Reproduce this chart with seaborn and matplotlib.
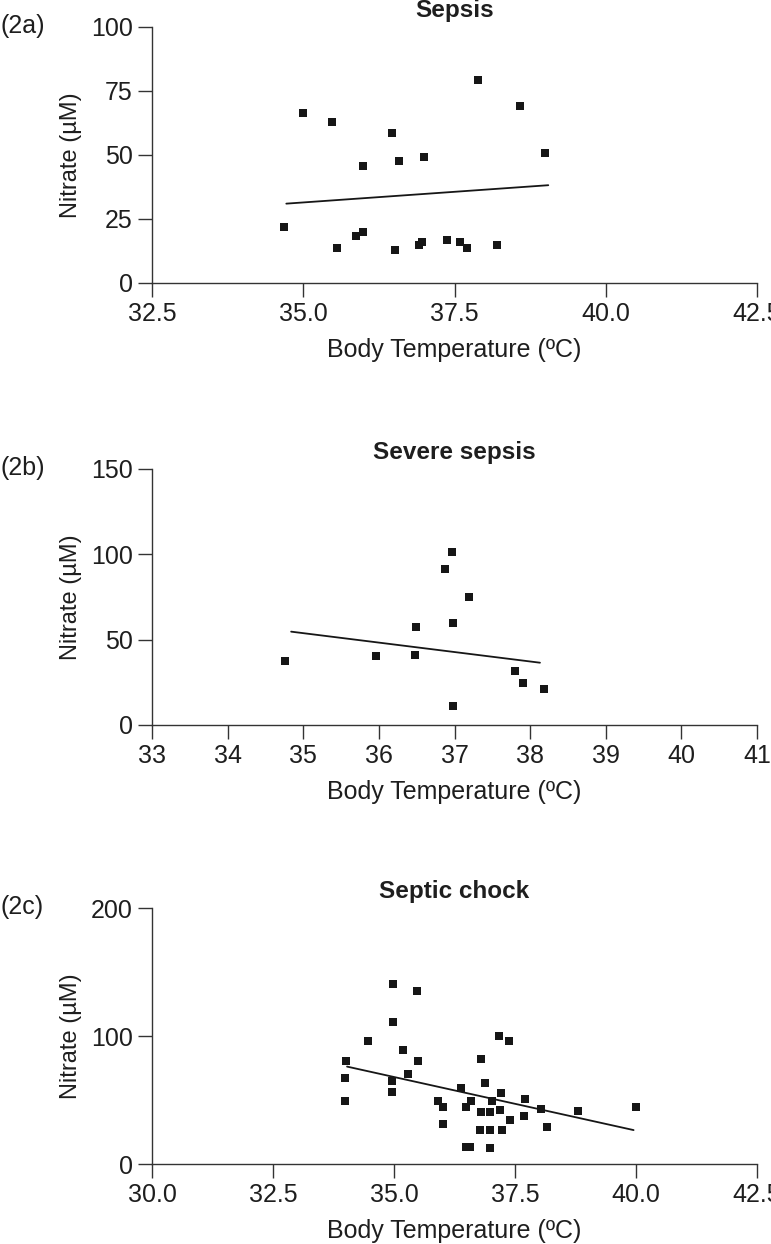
import matplotlib
matplotlib.use("Agg")
import matplotlib.pyplot as plt
import seaborn as sns
import pandas as pd

# ---- data ----
sepsis_temp = [34.69, 35.0, 35.48, 35.56, 35.87, 35.99, 35.98, 36.47, 36.52, 36.58,
               36.91, 36.97, 36.99, 37.38, 37.59, 37.71, 37.89, 38.21, 38.58, 38.99]
sepsis_nitrate = [21.9, 66.6, 63.0, 13.6, 18.3, 19.9, 45.8, 58.6, 13.0, 47.5,
                  14.7, 16.0, 49.4, 16.8, 16.0, 13.6, 79.4, 14.7, 69.0, 50.8]
sepsis_trend_temp = [34.72, 39.05]
sepsis_trend_nitrate = [31.0, 38.2]

severe_temp = [34.76, 35.96, 36.48, 36.49, 36.88, 36.97, 36.98, 36.98, 37.19, 37.80, 37.91, 38.19]
severe_nitrate = [37.3, 40.4, 41.0, 57.2, 91.4, 101.2, 59.8, 10.9, 74.8, 31.8, 24.8, 21.3]
severe_trend_temp = [34.84, 38.13]
severe_trend_nitrate = [54.7, 36.5]

shock_temp = [34.00, 33.99, 33.98, 34.47, 34.97, 34.98, 34.96, 34.96, 35.19, 35.28,
              35.47, 35.50, 35.90, 36.01, 36.01, 36.38, 36.48, 36.48, 36.58, 36.59,
              36.80, 36.79, 36.78, 36.87, 36.99, 36.99, 36.99, 37.02, 37.17, 37.21,
              37.19, 37.24, 37.38, 37.40, 37.70, 37.69, 38.03, 38.17, 38.80, 40.01]
shock_nitrate = [80.3, 67.0, 49.4, 96.1, 140.8, 110.6, 64.9, 56.1, 89.4, 70.4,
                 135.1, 80.8, 49.6, 44.9, 31.4, 59.2, 44.7, 13.2, 13.2, 49.6,
                 82.1, 40.5, 26.8, 63.4, 40.5, 26.8, 12.5, 49.6, 99.7, 55.1,
                 42.1, 26.8, 96.1, 34.0, 50.4, 37.4, 42.6, 29.1, 41.6, 44.9]
shock_trend_temp = [34.03, 39.95]
shock_trend_nitrate = [76.1, 26.5]

titles = ["Sepsis", "Severe sepsis", "Septic chock"]
panel_labels = ["(2a)", "(2b)", "(2c)"]
x_ticks = [[32.5, 35.0, 37.5, 40.0, 42.5],
           [33, 34, 35, 36, 37, 38, 39, 40, 41],
           [30.0, 32.5, 35.0, 37.5, 40.0, 42.5]]
x_ticklabels = [["32.5", "35.0", "37.5", "40.0", "42.5"],
                ["33", "34", "35", "36", "37", "38", "39", "40", "41"],
                ["30.0", "32.5", "35.0", "37.5", "40.0", "42.5"]]
y_ticks = [[0, 25, 50, 75, 100], [0, 50, 100, 150], [0, 100, 200]]
x_label = "Body Temperature (ºC)"
y_label = "Nitrate (µM)"

datasets = [
    (sepsis_temp, sepsis_nitrate, sepsis_trend_temp, sepsis_trend_nitrate),
    (severe_temp, severe_nitrate, severe_trend_temp, severe_trend_nitrate),
    (shock_temp, shock_nitrate, shock_trend_temp, shock_trend_nitrate),
]

sns.set_theme(style="ticks")
plt.rcParams['font.family'] = ['Liberation Sans', 'DejaVu Sans']
plt.rcParams['text.color'] = '#1e1e1e'
plt.rcParams['axes.labelcolor'] = '#1e1e1e'
plt.rcParams['xtick.color'] = '#333333'
plt.rcParams['ytick.color'] = '#333333'
plt.rcParams['xtick.labelcolor'] = '#1e1e1e'
plt.rcParams['ytick.labelcolor'] = '#1e1e1e'

W, H = 771, 1244
fig = plt.figure(figsize=(W / 100, H / 100), dpi=100)

ax_left = 152 / W
ax_width = 605 / W
ax_height = 256 / H
bottoms_px = [283, 725, 1164]

for i, (xs, ys, tx, ty) in enumerate(datasets):
    ax = fig.add_axes([ax_left, 1 - bottoms_px[i] / H, ax_width, ax_height])
    df = pd.DataFrame({"temp": xs, "nitrate": ys})
    trend = pd.DataFrame({"temp": tx, "nitrate": ty})
    sns.scatterplot(data=df, x="temp", y="nitrate", ax=ax, marker="s",
                    s=40, color="#161616", linewidth=0, zorder=3)
    sns.lineplot(data=trend, x="temp", y="nitrate", ax=ax, color="#161616",
                 linewidth=1.3, zorder=2)
    ax.set_xlim(x_ticks[i][0], x_ticks[i][-1])
    ax.set_ylim(y_ticks[i][0], y_ticks[i][-1])
    ax.set_xticks(x_ticks[i])
    ax.set_xticklabels(x_ticklabels[i])
    ax.set_yticks(y_ticks[i])
    ax.tick_params(axis="both", labelsize=18, length=10, width=1.0, pad=4)
    ax.set_xlabel(x_label, fontsize=18, labelpad=8)
    ax.set_ylabel(y_label, fontsize=17, labelpad=6)
    ax.set_title(titles[i], fontsize=17.5, fontweight="bold", pad=7)
    for sp in ["left", "bottom"]:
        ax.spines[sp].set_color("#333333")
        ax.spines[sp].set_linewidth(1.0)
    for sp in ["top", "right"]:
        ax.spines[sp].set_visible(False)
    top_px = bottoms_px[i] - 256
    fig.text(0.0, 1 - (top_px - 1) / H, panel_labels[i], fontsize=18,
             ha="left", va="center", color="#1e1e1e")

fig.savefig("out.png", dpi=100)
